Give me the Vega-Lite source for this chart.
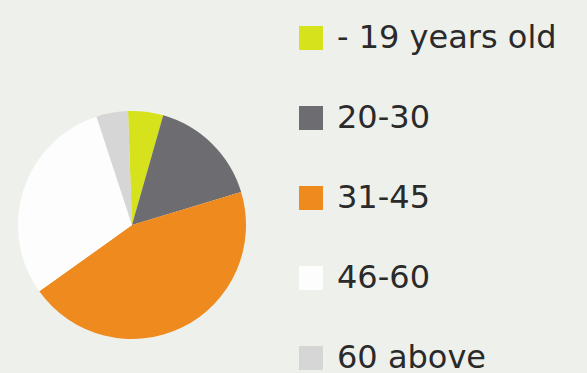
{
  "$schema": "https://vega.github.io/schema/vega-lite/v6.json",
  "autosize": "none",
  "width": 264,
  "height": 230,
  "padding": {"left": 0, "top": 110, "right": 323, "bottom": 33},
  "background": "#eef0ec",
  "data": {
    "values": [
      {"group": "\u00a0- 19 years old", "rank": 1, "share": 5},
      {"group": "20-30", "rank": 2, "share": 16},
      {"group": "31-45", "rank": 3, "share": 45},
      {"group": "46-60", "rank": 4, "share": 30},
      {"group": "60 above", "rank": 5, "share": 4.5}
    ]
  },
  "mark": {"type": "arc", "outerRadius": 114, "stroke": null},
  "encoding": {
    "theta": {"field": "share", "type": "quantitative", "stack": true, "scale": {"range": [-0.035, 6.2482]}},
    "order": {"field": "rank", "type": "quantitative"},
    "color": {
      "field": "group",
      "type": "nominal",
      "scale": {
        "domain": ["\u00a0- 19 years old", "20-30", "31-45", "46-60", "60 above"],
        "range": ["#d5e21c", "#6d6c70", "#ee8a1e", "#fdfdfd", "#d6d6d6"]
      },
      "legend": {
        "title": null,
        "orient": "none",
        "legendX": 295,
        "legendY": -88,
        "padding": 0,
        "symbolType": "square",
        "symbolSize": 576,
        "symbolStrokeWidth": 0,
        "labelFont": "DejaVu Sans",
        "labelFontSize": 32,
        "labelColor": "#2a2a2a",
        "labelOffset": 10,
        "rowPadding": 48,
        "labelLimit": 400
      }
    }
  },
  "config": {"view": {"stroke": null}}
}
